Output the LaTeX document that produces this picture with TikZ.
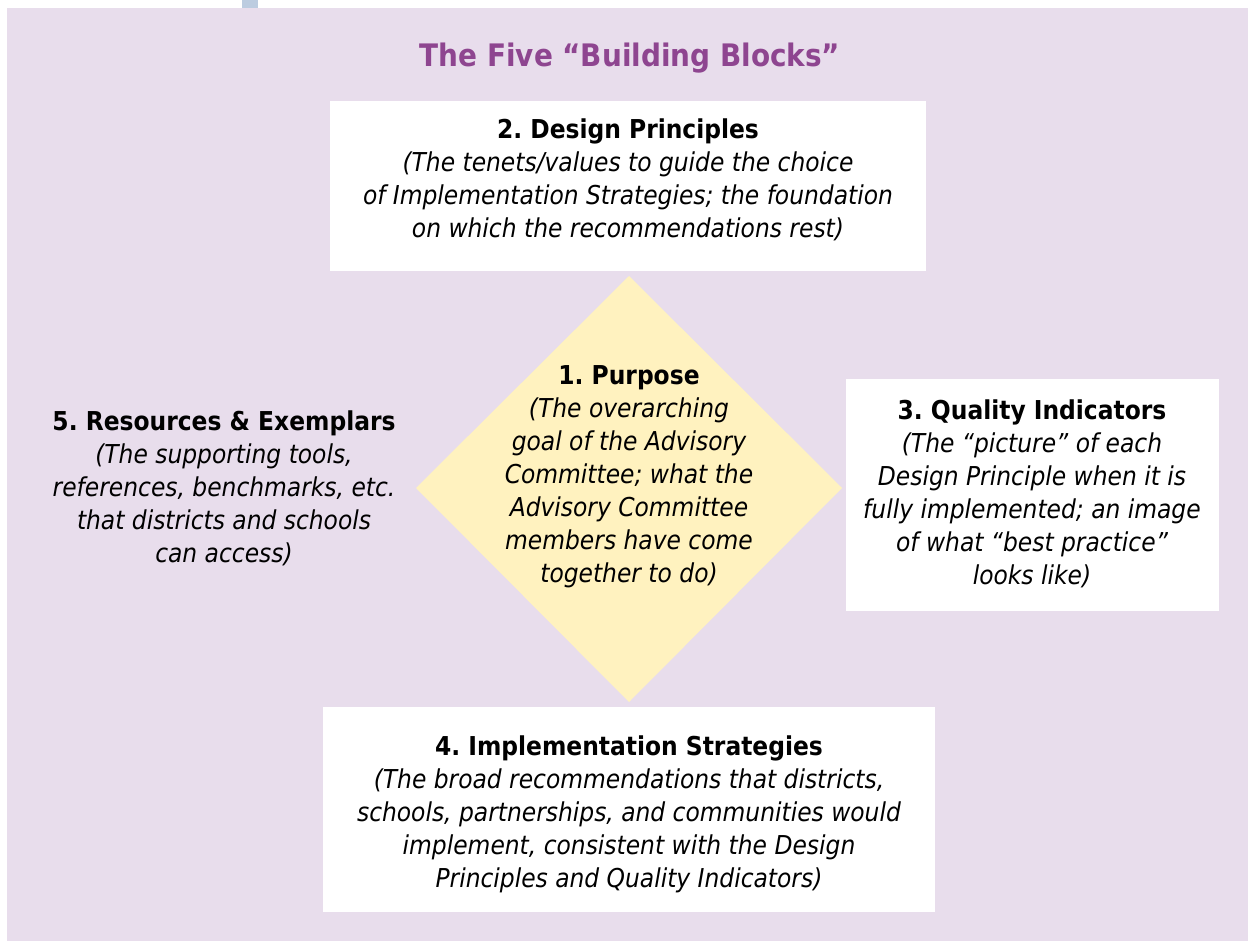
\documentclass[tikz,border=0pt]{standalone}
\usepackage{fontspec}
\setmainfont{DejaVu Sans Condensed}
\frenchspacing
\definecolor{bglav}{HTML}{E8DDEC}
\definecolor{barblue}{HTML}{BCCCE0}
\definecolor{diayel}{HTML}{FFF2BF}
\definecolor{titlepurple}{HTML}{8E4590}
\tikzset{
  body/.style={align=center, font=\fontsize{26}{33}\selectfont\itshape\frenchspacing, text=black, inner sep=0pt},
  whitebox/.style={fill=white},
}
\newcommand{\hd}[1]{{\upshape\bfseries #1}}
\begin{document}
\begin{tikzpicture}[x=1pt,y=-1pt]
\useasboundingbox (0,0) rectangle (1248,941);
\fill[white] (0,0) rectangle (1248,941);
\fill[barblue] (242,0) rectangle (258,8);
\fill[bglav] (7,8) rectangle (1248,941);
% boxes
\fill[whitebox] (330,101) rectangle (926,271);
\fill[whitebox] (846,379) rectangle (1219,611);
\fill[whitebox] (323,707) rectangle (935,912);
\fill[diayel] (629,276) -- (842,488) -- (629,702) -- (416,488) -- cycle;
% title
\node[font=\fontsize{31}{36}\selectfont\bfseries, text=titlepurple, inner sep=0pt] (title) at (630,58) {The Five “Building Blocks”};
% texts
\node[body] (design) at (628,180) {\hd{2. Design Principles}\\(The tenets/values to guide the choice\\of Implementation Strategies; the foundation\\on which the recommendations rest)};
\node[body] (purpose) at (629,477) {\hd{1. Purpose}\\(The overarching\\goal of the Advisory\\Committee; what the\\Advisory Committee\\members have come\\together to do)};
\node[body] (resources) at (224,488) {\hd{5. Resources \& Exemplars}\\(The supporting tools,\\references, benchmarks, etc.\\that districts and schools\\can access)};
\node[body] (quality) at (1032,494) {\hd{3. Quality Indicators}\\(The “picture” of each\\Design Principle when it is\\fully implemented; an image\\of what “best practice”\\looks like)};
\node[body] (impl) at (629,814) {\hd{4. Implementation Strategies}\\(The broad recommendations that districts,\\schools, partnerships, and communities would\\implement, consistent with the Design\\Principles and Quality Indicators)};
\end{tikzpicture}
\end{document}
